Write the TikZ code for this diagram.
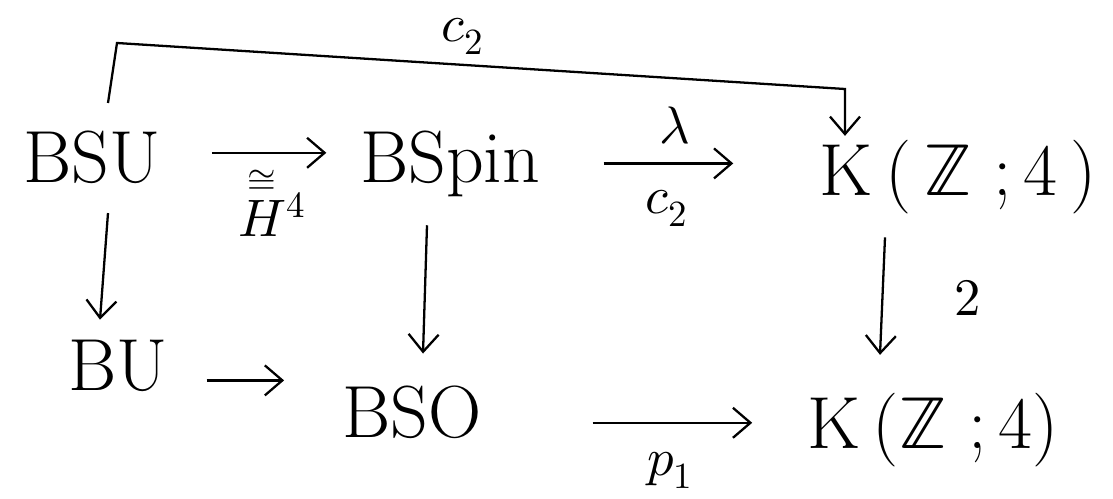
\documentclass[tikz,border=0pt]{standalone}
\usepackage{amsmath}
\usepackage{unicode-math}
\usetikzlibrary{arrows.meta}
\tikzset{
  space/.style={font=\fontsize{42}{50}\selectfont, inner sep=2pt, anchor=base},
  map/.style={-{Straight Barb[length=3.5mm,width=6mm]}, line width=1.3pt},
  lbl/.style={font=\fontsize{30}{36}\selectfont, inner sep=1pt}
}
\begin{document}
\begin{tikzpicture}
\useasboundingbox (0,0) rectangle (22.26,-9.96);
% spaces
\node[space] (bsu) at (1.84,-3.64) {BSU};
\node[space] (bspin) at (9.0,-3.64) {BSpin};
\node[space] (ktop) at (19.16,-3.9) {K\,(\,$\mathbb{Z}$\;;\,4\,)};
\node[space] (bu) at (2.36,-7.8) {BU};
\node[space] (bso) at (8.24,-8.74) {BSO};
\node[space] (kbot) at (18.66,-8.96) {K\,($\mathbb{Z}$\;;\,4)};
% top loop
\coordinate (loopS) at (2.16,-2.06);
\coordinate (loopL) at (2.34,-0.86);
\coordinate (loopR) at (16.9,-1.78);
\draw[map] (loopS) -- (loopL) -- (loopR) -- (loopR |- ktop.north);
\node[lbl] (c2top) at (9.26,-0.72) {$c_2$};
% top row
\draw[map, shorten <=27pt, shorten >=17pt] ([yshift=0.08cm]bsu.east) -- ([yshift=0.08cm]bsu.east -| bspin.west);
\node[lbl] (iso) at (5.44,-4.0) {$\overset{\cong}{H}{}^{4}$};
\draw[map, shorten <=34pt, shorten >=47pt] (bspin.east) -- (bspin.east -| ktop.west);
\node[lbl] (lam) at (13.5,-2.52) {$\lambda$};
\node[lbl] (c2) at (13.34,-4.16) {$c_2$};
% verticals
\draw[map] ([xshift=0.32cm,yshift=-0.52cm]bsu.south) -- ([xshift=-0.36cm,yshift=0.32cm]bu.north);
\draw[map] ([xshift=-0.46cm,yshift=-0.5cm]bspin.south) -- ([xshift=0.22cm,yshift=0.56cm]bso.north);
\draw[map] ([xshift=-1.46cm,yshift=-0.4cm]ktop.south) -- ([xshift=-1.06cm,yshift=0.68cm]kbot.north);
\node[lbl] (two) at (19.36,-5.96) {$2$};
% bottom row
\draw[map, shorten <=20pt, shorten >=31pt] ([yshift=-0.3cm]bu.east) -- ([yshift=-0.3cm]bu.east -| bso.west);
\draw[map, shorten <=61pt, shorten >=29pt] ([yshift=-0.22cm]bso.east) -- ([yshift=-0.22cm]bso.east -| kbot.west);
\node[lbl] (p1) at (13.4,-9.4) {$p_1$};
\end{tikzpicture}
\end{document}
